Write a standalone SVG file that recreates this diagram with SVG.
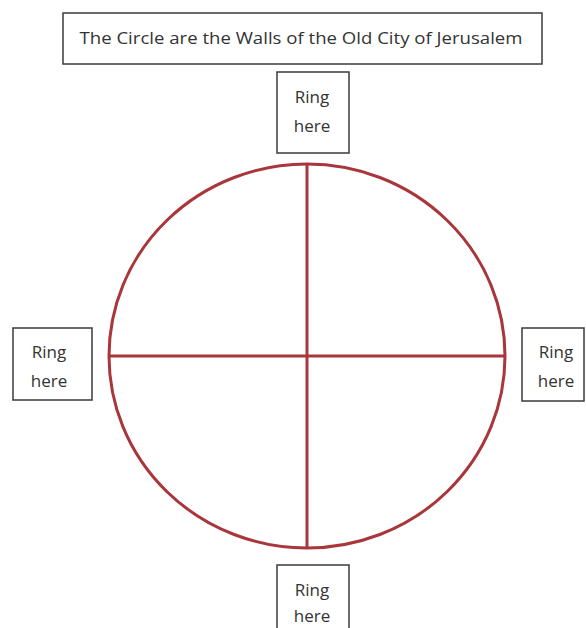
<svg xmlns="http://www.w3.org/2000/svg" width="586" height="628" viewBox="0 0 586 628">
<style>
.box{fill:#fff;stroke:#3a3a3a;stroke-width:1.5}
.t{font-family:"Open Sans","Liberation Sans",Arial,sans-serif;font-size:17px;fill:#333;text-anchor:middle}
.wall{fill:none;stroke:#a8363b;stroke-width:3}
</style>
<rect width="586" height="628" fill="#fff"/>
<g id="title"><rect class="box" x="63" y="13" width="479" height="51"/><text class="t" x="301" y="44" textLength="443" lengthAdjust="spacingAndGlyphs">The Circle are the Walls of the Old City of Jerusalem</text></g>
<g id="walls">
<ellipse class="wall" cx="307" cy="356" rx="198" ry="192"/>
</g>
<g id="connectors">
<line class="wall" x1="307" y1="164" x2="307" y2="548"/>
<line class="wall" x1="109" y1="356" x2="505" y2="356"/>
</g>
<g id="ring-top"><rect class="box" x="277" y="72" width="72" height="81"/><text class="t" x="312" y="103">Ring</text><text class="t" x="312" y="132">here</text></g>
<g id="ring-left"><rect class="box" x="13" y="328" width="79" height="72"/><text class="t" x="49" y="358">Ring</text><text class="t" x="49" y="387">here</text></g>
<g id="ring-right"><rect class="box" x="522" y="328" width="62" height="73"/><text class="t" x="556" y="358">Ring</text><text class="t" x="556" y="387">here</text></g>
<g id="ring-bottom"><rect class="box" x="277" y="565" width="72" height="70"/><text class="t" x="312" y="596">Ring</text><text class="t" x="312" y="622">here</text></g>
</svg>
